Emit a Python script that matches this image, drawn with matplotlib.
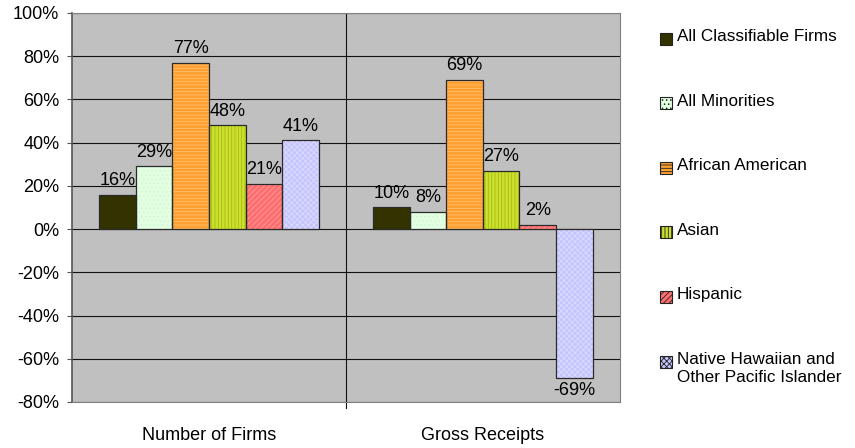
"""
Percent change in firms and receipts by group
"""
import matplotlib.pyplot as plt
from matplotlib.patches import Rectangle
import numpy as np

categories = ['Number of Firms', 'Gross Receipts']
series_names = ['All Classifiable Firms', 'All Minorities', 'African American',
                'Asian', 'Hispanic', 'Native Hawaiian and\nOther Pacific Islander']
values = [
    [16, 10],   # All Classifiable Firms
    [29, 8],    # All Minorities
    [77, 69],   # African American
    [48, 27],   # Asian
    [21, 2],    # Hispanic
    [41, -69],  # Native Hawaiian and Other Pacific Islander
]
y_ticks = [-80, -60, -40, -20, 0, 20, 40, 60, 80, 100]

# fill colour, hatch colour, hatch pattern
styles = [
    ('#333300', '#333300', None),
    ('#E2FFE2', '#D6F4D6', '....'),
    ('#FFA030', '#FFC070', '-----'),
    ('#CCE030', '#A8BC10', '|||||'),
    ('#FF6E6E', '#FF9E9E', '//////'),
    ('#C4C4FF', '#DCDCFF', 'xxxxxx'),
]

plt.rcParams['font.family'] = ['Liberation Sans', 'DejaVu Sans']
plt.rcParams['hatch.linewidth'] = 0.6

fig = plt.figure(figsize=(8.55, 4.48), dpi=100)
ax = fig.add_axes([0.0842, 0.1027, 0.6409, 0.8683])
ax.set_facecolor('#C0C0C0')

n = len(series_names)
width = 0.8 / n
x = np.arange(len(categories)) + 0.5

for i, (vals, (fc, hc, hatch)) in enumerate(zip(values, styles)):
    pos = x - 0.4 + width * (i + 0.5)
    ax.bar(pos, vals, width, color=fc, edgecolor=hc, hatch=hatch, linewidth=0, zorder=3)
    ax.bar(pos, vals, width, fill=False, edgecolor='#2a2a2a', linewidth=0.9, zorder=4)
    for px, v in zip(pos, vals):
        ax.annotate(f'{v}%', (px, v), xytext=(0, 4 if v >= 0 else -3),
                    textcoords='offset points', ha='center',
                    va='bottom' if v >= 0 else 'top', fontsize=13, zorder=5)

ax.set_xlim(0, len(categories))
ax.set_ylim(-80, 100)
ax.set_yticks(y_ticks)
ax.set_yticklabels([f'{t}%' for t in y_ticks], fontsize=13)
ax.set_xticks(x)
ax.set_xticklabels(categories, fontsize=13)
ax.tick_params(axis='x', length=0, pad=18)
ax.tick_params(axis='y', length=3.6, direction='out', color='#555555', pad=5.5)

for t in y_ticks:
    ax.axhline(t, color='#111111', linewidth=0.8, zorder=1)
ax.axvline(1, color='#111111', linewidth=0.8, zorder=1)
# tick mark below the divider
ax.plot([1, 1], [-80, -83], color='#111111', linewidth=0.8, clip_on=False)

for side in ['top', 'right', 'bottom']:
    ax.spines[side].set_color('#808080')
ax.spines['left'].set_color('#555555')
ax.spines['left'].set_linewidth(1.2)

# legend drawn by hand to keep the wide spacing
W, H = 855, 448
for i, (name, (fc, hc, hatch)) in enumerate(zip(series_names, styles)):
    yc = 39 + 64.5 * i
    fig.patches.append(Rectangle((660 / W, 1 - (yc + 6) / H), 12 / W, 12 / H,
                                 transform=fig.transFigure, facecolor=fc,
                                 edgecolor='#222222', hatch=hatch, linewidth=0.8))
    fig.text(677 / W, 1 - (yc - 10) / H, name, fontsize=12.3, va='top', ha='left',
             linespacing=1.3)

fig.savefig('out.png', dpi=100)
